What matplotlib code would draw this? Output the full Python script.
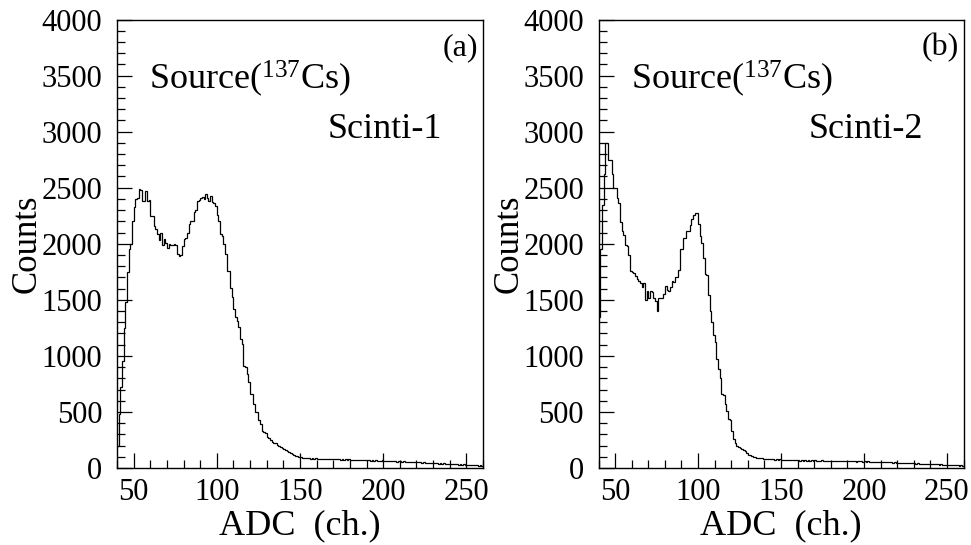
import numpy as np
import matplotlib
matplotlib.use("Agg")
import matplotlib.pyplot as plt
from matplotlib.ticker import MultipleLocator

plt.rcParams["font.family"] = ["Liberation Serif", "DejaVu Serif"]
plt.rcParams["mathtext.fontset"] = "custom"
plt.rcParams["mathtext.rm"] = "Liberation Serif"
plt.rcParams["mathtext.it"] = "Liberation Serif:italic"

# ADC channel bins (1 channel wide), first bin starts at channel 40
first_channel = 40

# Scinti-1 counts per channel, channels 40..259
counts_scinti1 = [
    200, 480, 720, 950, 1250, 1480, 1750, 1950, 2000, 2200,
    2330, 2400, 2410, 2490, 2480, 2380, 2380, 2470, 2380, 2390,
    2250, 2250, 2160, 2130, 2090, 2030, 2100, 1990, 2040, 2010,
    1960, 2000, 1990, 1990, 2000, 1990, 1910, 1890, 1900, 1980,
    2040, 2050, 2100, 2180, 2200, 2200, 2280, 2300, 2380, 2390,
    2410, 2420, 2400, 2440, 2410, 2380, 2430, 2370, 2360, 2340,
    2260, 2200, 2083, 2070, 1994, 1905, 1757, 1757, 1609, 1521,
    1417, 1343, 1314, 1254, 1151, 1107, 914, 899, 840, 766,
    663, 660, 574, 500, 500, 426, 396, 331, 325, 308,
    278, 265, 249, 234, 225, 219, 205, 195, 185, 175,
    165, 158, 150, 140, 130, 122, 115, 110, 104, 100,
    96, 92, 90, 88, 86, 88, 84, 85, 83, 86,
    82, 84, 80, 83, 81, 79, 82, 78, 80, 79,
    77, 80, 76, 78, 75, 79, 74, 76, 73, 77,
    72, 75, 71, 74, 70, 72, 69, 73, 68, 70,
    67, 71, 66, 69, 65, 68, 64, 66, 63, 67,
    62, 64, 60, 63, 59, 61, 58, 62, 57, 59,
    60, 56, 58, 54, 57, 53, 55, 52, 54, 50,
    52, 49, 51, 47, 50, 46, 48, 45, 47, 43,
    45, 42, 44, 40, 42, 39, 41, 37, 39, 36,
    38, 35, 36, 33, 35, 31, 33, 30, 32, 29,
    30, 27, 29, 25, 27, 24, 26, 22, 24, 21,
]

# Scinti-2 counts per channel, channels 40..259
counts_scinti2 = [
    1350, 1950, 2350, 2620, 2900, 2900, 2750, 2750, 2620, 2500,
    2500, 2410, 2360, 2190, 2110, 2080, 1990, 1980, 1900, 1760,
    1750, 1740, 1710, 1690, 1670, 1650, 1610, 1650, 1500, 1580,
    1520, 1580, 1570, 1520, 1490, 1400, 1520, 1520, 1520, 1550,
    1620, 1590, 1580, 1610, 1670, 1660, 1700, 1700, 1770, 1950,
    1950, 2050, 2050, 2110, 2110, 2170, 2220, 2260, 2275, 2270,
    2180, 2070, 2010, 1875, 1730, 1720, 1540, 1400, 1300, 1190,
    1120, 970, 880, 800, 660, 650, 570, 510, 440, 430,
    330, 255, 225, 196, 190, 180, 165, 160, 150, 135,
    120, 112, 108, 100, 96, 92, 90, 85, 88, 82,
    80, 84, 78, 82, 76, 80, 74, 78, 73, 76,
    72, 75, 70, 73, 69, 72, 68, 71, 67, 70,
    69, 66, 70, 65, 68, 66, 69, 64, 67, 65,
    68, 63, 66, 64, 67, 62, 65, 63, 66, 61,
    64, 62, 65, 60, 63, 61, 64, 59, 62, 60,
    62, 58, 61, 59, 62, 57, 60, 58, 61, 56,
    58, 56, 59, 55, 57, 54, 57, 53, 56, 52,
    55, 51, 53, 50, 52, 49, 51, 48, 50, 47,
    48, 46, 47, 44, 46, 43, 45, 42, 44, 41,
    42, 40, 41, 38, 40, 37, 39, 36, 37, 35,
    36, 33, 35, 32, 33, 30, 32, 29, 30, 28,
    29, 26, 28, 24, 26, 23, 25, 21, 23, 20,
]

panel_tags = ["(a)", "(b)"]
detector_names = ["Scinti-1", "Scinti-2"]
source_label = r"Source($^{137}$Cs)"
x_label = "ADC  (ch.)"
y_label = "Counts"

fig = plt.figure(figsize=(9.71, 5.45), dpi=100)
axes = [
    fig.add_axes([0.1205, 0.1413, 0.3769, 0.8229]),
    fig.add_axes([0.6164, 0.1413, 0.3759, 0.8229]),
]

for ax, counts, tag, name in zip(axes, [counts_scinti1, counts_scinti2],
                                 panel_tags, detector_names):
    counts = np.asarray(counts, dtype=float)
    edges = first_channel + np.arange(len(counts) + 1)
    ax.stairs(counts, edges, color="black", linewidth=0.9, baseline=None)

    ax.set_xlim(40, 260)
    ax.set_ylim(0, 4000)
    ax.xaxis.set_major_locator(MultipleLocator(50))
    ax.xaxis.set_minor_locator(MultipleLocator(10))
    ax.yaxis.set_major_locator(MultipleLocator(500))
    ax.yaxis.set_minor_locator(MultipleLocator(100))
    ax.tick_params(which="both", direction="in", top=False, right=False,
                   labelsize=22, width=0.9)
    ax.tick_params(axis="x", which="major", length=11, pad=7)
    ax.tick_params(axis="x", which="minor", length=5.5)
    ax.tick_params(axis="y", which="major", length=11, pad=10.5)
    ax.tick_params(axis="y", which="minor", length=5.5)
    for spine in ax.spines.values():
        spine.set_linewidth(1.0)

    ax.set_xlabel(x_label, fontsize=26, labelpad=2)
    ax.set_ylabel(y_label, fontsize=25)
    ax.yaxis.set_label_coords(-0.20, 0.5)

    ax.text(59.5, 3470, source_label, fontsize=26, ha="left", va="center")
    ax.text(201, 3020, name, fontsize=26, ha="center", va="center")
    ax.text(257, 3750, tag, fontsize=23, ha="right", va="center")

fig.savefig("out.png", dpi=100)
